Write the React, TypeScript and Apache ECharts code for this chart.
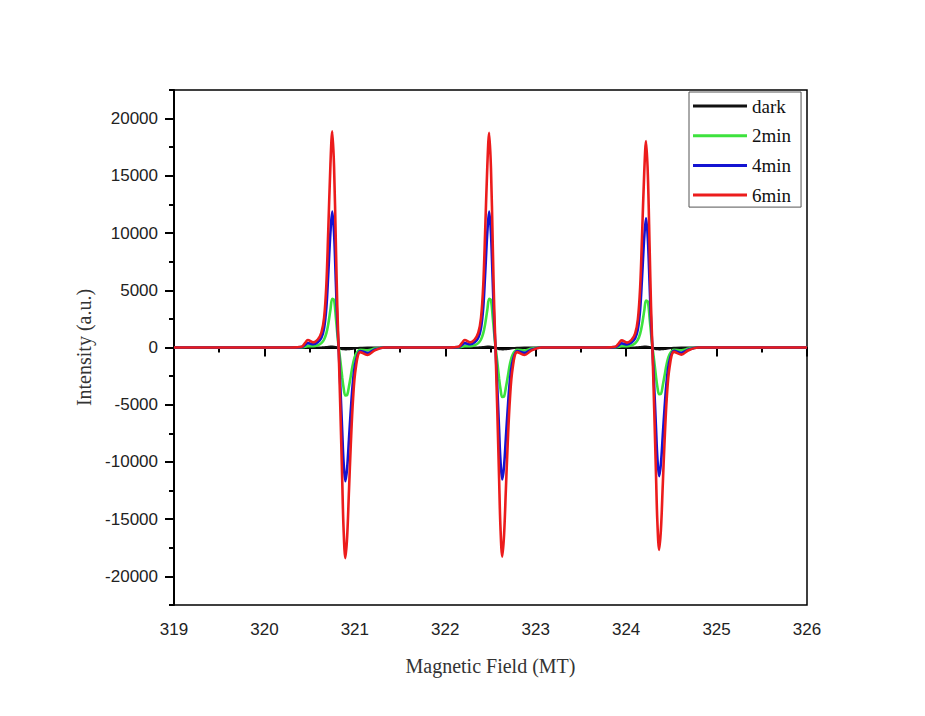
import React, { useEffect, useRef } from "react";
import * as echarts from "echarts";

// Magnetic field sample positions (MT)
const fieldStart = [319.0, 319.8];
const field1 = [320.30, 320.41, 320.45, 320.48, 320.54, 320.59, 320.63, 320.66, 320.685, 320.705, 320.73, 320.75, 320.77, 320.79, 320.805, 320.82, 320.84, 320.86, 320.875, 320.895, 320.915, 320.935, 320.955, 320.98, 321.01, 321.06, 321.14, 321.22, 321.33];
const fieldGap1 = [321.7];
const field2 = [322.035, 322.145, 322.185, 322.215, 322.275, 322.325, 322.365, 322.395, 322.42, 322.44, 322.465, 322.485, 322.505, 322.525, 322.54, 322.555, 322.575, 322.595, 322.61, 322.63, 322.65, 322.67, 322.69, 322.715, 322.745, 322.795, 322.875, 322.955, 323.065];
const fieldGap2 = [323.4];
const field3 = [323.77, 323.88, 323.92, 323.95, 324.01, 324.06, 324.10, 324.13, 324.155, 324.175, 324.20, 324.22, 324.24, 324.26, 324.275, 324.29, 324.31, 324.33, 324.345, 324.365, 324.385, 324.405, 324.425, 324.45, 324.48, 324.53, 324.61, 324.69, 324.80];
const fieldEnd = [325.3, 326.0];

// dark
const dark1 = [0, 0, 0, 0, 0, 0, 10, 20, 40, 60, 80, 80, 70, 40, 10, -40, -100, -150, -160, -170, -160, -150, -130, -100, -60, -30, 0, 0, 0];
const dark2 = [0, 0, 0, 0, 0, 0, 10, 20, 40, 60, 80, 80, 70, 40, 10, -40, -100, -150, -160, -170, -160, -150, -130, -100, -60, -30, 0, 0, 0];
const dark3 = [0, 0, 0, 0, 0, 0, 10, 20, 40, 60, 80, 80, 70, 40, 10, -40, -100, -150, -160, -170, -160, -150, -130, -100, -60, -30, 0, 0, 0];

// 2min
const g1 = [0, 10, 60, 120, 110, 200, 380, 700, 1250, 2000, 3300, 4250, 4150, 2600, 1300, 100, -1200, -2600, -3500, -4200, -4150, -3400, -2500, -1400, -600, -200, -250, -100, 0];
const g2 = [0, 10, 60, 120, 110, 200, 380, 700, 1250, 2000, 3300, 4250, 4150, 2600, 1300, 100, -1250, -2700, -3600, -4330, -4280, -3500, -2600, -1450, -620, -200, -260, -100, 0];
const g3 = [0, 10, 60, 115, 105, 190, 370, 680, 1210, 1940, 3200, 4100, 4000, 2520, 1260, 100, -1170, -2540, -3420, -4080, -4050, -3320, -2450, -1370, -590, -200, -240, -100, 0];

// 4min
const b1 = [0, 30, 220, 380, 280, 450, 850, 1700, 3500, 6300, 10100, 11880, 10000, 5700, 2400, 0, -3500, -7300, -10000, -11680, -10500, -8000, -5500, -2900, -1200, -300, -480, -180, 0];
const b2 = [0, 30, 220, 380, 280, 450, 850, 1700, 3500, 6300, 10100, 11880, 10000, 5700, 2400, 0, -3450, -7200, -9870, -11530, -10360, -7900, -5430, -2860, -1180, -300, -470, -180, 0];
const b3 = [0, 30, 210, 360, 270, 430, 810, 1620, 3330, 5990, 9610, 11300, 9510, 5420, 2280, 0, -3370, -7020, -9620, -11240, -10100, -7700, -5290, -2790, -1150, -290, -460, -170, 0];

// 6min
const r1 = [0, 60, 400, 650, 450, 700, 1300, 2600, 5500, 10000, 16000, 18900, 15800, 9000, 3800, 0, -5500, -11500, -15800, -18400, -16500, -12500, -8500, -4500, -1800, -400, -650, -250, 0];
const r2 = [0, 60, 400, 650, 450, 700, 1290, 2580, 5460, 9930, 15890, 18770, 15690, 8940, 3770, 0, -5460, -11420, -15690, -18270, -16380, -12410, -8440, -4470, -1790, -400, -650, -250, 0];
const r3 = [0, 60, 380, 620, 430, 670, 1240, 2480, 5250, 9550, 15280, 18040, 15090, 8600, 3630, 0, -5290, -11050, -15180, -17680, -15860, -12010, -8170, -4320, -1730, -380, -620, -240, 0];

const seriesNames = ["dark", "2min", "4min", "6min"];
const seriesColors = ["#111111", "#3de23d", "#1414d2", "#ec1c1c"];
const xTicks = [319, 320, 321, 322, 323, 324, 325, 326];
const yTicks = [-20000, -15000, -10000, -5000, 0, 5000, 10000, 15000, 20000];

const field = [...fieldStart, ...field1, ...fieldGap1, ...field2, ...fieldGap2, ...field3, ...fieldEnd];
const zs = (n: number) => new Array(n).fill(0);
const buildVals = (a: number[], b: number[], c: number[]) => [...zs(2), ...a, ...zs(1), ...b, ...zs(1), ...c, ...zs(2)];
const values = [
  buildVals(dark1, dark2, dark3),
  buildVals(g1, g2, g3),
  buildVals(b1, b2, b3),
  buildVals(r1, r2, r3),
];

export default function App() {
  const ref = useRef<HTMLDivElement>(null);
  useEffect(() => {
    if (!ref.current) return;
    const chart = echarts.init(ref.current, undefined, { renderer: "svg" });
    const sans = "Liberation Sans";
    const serif = "Liberation Serif";
    chart.setOption({
      animation: false,
      backgroundColor: "#ffffff",
      grid: {
        left: 174,
        right: 118,
        top: 90,
        bottom: 111,
        show: true,
        borderColor: "#000",
        borderWidth: 1.5,
        backgroundColor: "transparent",
      },
      legend: {
        orient: "vertical",
        left: 689,
        top: 92,
        padding: [4, 10, 2, 4],
        itemWidth: 54,
        itemHeight: 3,
        itemGap: 9.7,
        icon: "rect",
        borderColor: "#555",
        borderWidth: 1,
        backgroundColor: "#fff",
        textStyle: { fontFamily: serif, fontSize: 19, color: "#111", lineHeight: 20 },
        data: seriesNames,
      },
      xAxis: {
        type: "value",
        min: 319,
        max: 326,
        interval: 1,
        name: "Magnetic Field (MT)",
        nameLocation: "middle",
        nameGap: 51,
        nameTextStyle: { fontFamily: serif, fontSize: 20, color: "#333" },
        axisLine: { show: true, lineStyle: { color: "#000", width: 2 } },
        axisTick: { show: true, inside: false, length: 9, lineStyle: { color: "#000", width: 2 } },
        minorTick: { show: true, splitNumber: 2, length: 5, lineStyle: { color: "#000", width: 2 } },
        axisLabel: {
          fontFamily: sans,
          fontSize: 17,
          color: "#222",
          margin: 16,
          formatter: (v: number) => (xTicks.includes(v) ? String(v) : ""),
        },
        splitLine: { show: false },
        minorSplitLine: { show: false },
      },
      yAxis: [
        {
          type: "value",
          min: -22500,
          max: 22500,
          interval: 2500,
          name: "Intensity (a.u.)",
          nameLocation: "middle",
          nameGap: 76,
          nameRotate: 90,
          nameTextStyle: { fontFamily: serif, fontSize: 20, color: "#333" },
          axisLine: { show: true, lineStyle: { color: "#000", width: 2 } },
          axisTick: { show: true, inside: false, length: 9, customValues: yTicks, lineStyle: { color: "#000", width: 2 } },
          axisLabel: {
            fontFamily: sans,
            fontSize: 17,
            color: "#222",
            margin: 16,
            customValues: yTicks,
            formatter: (v: number) => String(v),
          },
          splitLine: { show: false },
        },
        {
          type: "value",
          position: "left",
          min: -22500,
          max: 22500,
          interval: 2500,
          axisLine: { show: false },
          axisTick: { show: true, inside: false, length: 5, lineStyle: { color: "#000", width: 2 } },
          axisLabel: { show: false },
          splitLine: { show: false },
        },
      ],
      series: seriesNames.map((name, i) => ({
        name,
        type: "line",
        yAxisIndex: 0,
        showSymbol: false,
        smooth: 0.35,
        lineStyle: { color: seriesColors[i], width: i === 0 ? 2 : 2.6 },
        itemStyle: { color: seriesColors[i] },
        data: field.map((x, k) => [x, values[i][k]]),
        z: 2 + i,
      })),
    });
    return () => chart.dispose();
  }, []);
  return <div ref={ref} style={{ position: "absolute", left: 0, top: 0, width: 925, height: 716 }} />;
}
